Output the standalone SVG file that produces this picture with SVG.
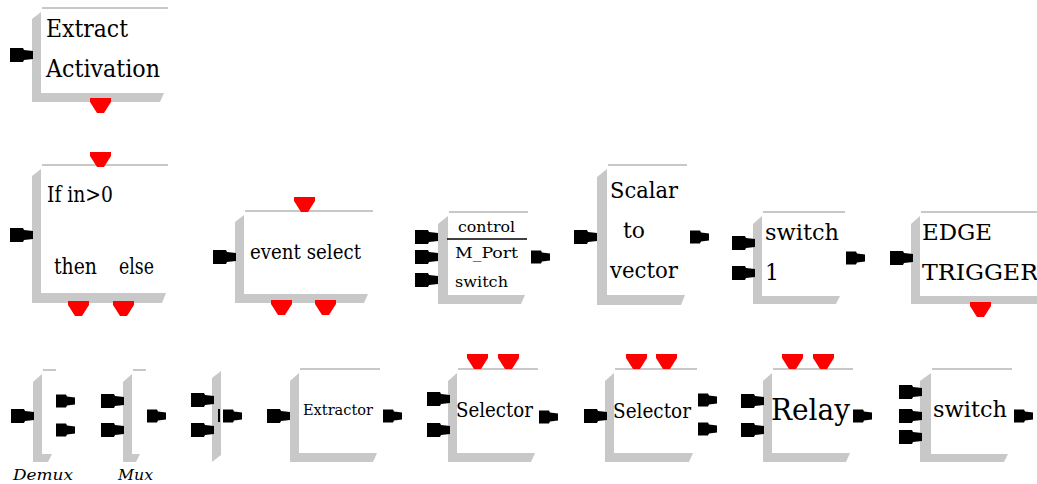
<svg xmlns="http://www.w3.org/2000/svg" xmlns:xlink="http://www.w3.org/1999/xlink" width="1037" height="484" viewBox="0 0 1037 484">
<style>
.sh{fill:#c8c8c8}
.tl{stroke:#c8c8c8;stroke-width:2;fill:none}
text{font-family:'DejaVu Serif','Liberation Serif',serif;fill:#000}
.pb{fill:#000}
.ev{fill:#f00}
</style>
<defs>
<path id="pi" d="M0,-7 H13 L14,-5 L23,-4 V4 L14,5 L13,7 H0 Z"/>
<path id="po" d="M0,-6.5 H10 L11,-4.5 L19,-3.5 V3.5 L11,4.5 L10,6.5 H0 Z"/>
<path id="ev" d="M0,0 H21 V4 L14,15 H7 L0,4 Z"/>
</defs>
<rect width="1037" height="484" fill="#fff"/>
<g id="connectors"/>

<g id="extract_activation">
<polygon class="sh" points="41,12 41,93 164,93 160,102 32,102 32,19"/>
<line class="tl" x1="42" y1="8" x2="168" y2="8"/>
<use href="#pi" class="pb" x="10" y="55"/>
<use href="#ev" class="ev" x="90" y="98"/>
<text x="46" y="37" font-size="24" textLength="82" lengthAdjust="spacingAndGlyphs">Extract</text>
<text x="46" y="77" font-size="24" textLength="114" lengthAdjust="spacingAndGlyphs">Activation</text>
</g>

<g id="if_then_else">
<polygon class="sh" points="41,169 41,293 166,293 162,303 32,303 32,176"/>
<line class="tl" x1="42" y1="165" x2="168" y2="165"/>
<use href="#ev" class="ev" x="90" y="152"/>
<use href="#pi" class="pb" x="10" y="235"/>
<use href="#ev" class="ev" x="68" y="301"/>
<use href="#ev" class="ev" x="113" y="301"/>
<text x="47" y="202" font-size="22" textLength="66" lengthAdjust="spacingAndGlyphs">If in&gt;0</text>
<text x="54" y="274" font-size="22" textLength="43" lengthAdjust="spacingAndGlyphs">then</text>
<text x="119" y="274" font-size="22" textLength="35" lengthAdjust="spacingAndGlyphs">else</text>
</g>

<g id="event_select">
<polygon class="sh" points="244,215 244,294 368,294 364,303 235,303 235,222"/>
<line class="tl" x1="245" y1="211" x2="373" y2="211"/>
<use href="#ev" class="ev" x="294" y="197"/>
<use href="#pi" class="pb" x="213" y="257"/>
<use href="#ev" class="ev" x="271" y="300"/>
<use href="#ev" class="ev" x="315" y="300"/>
<text x="250" y="259" font-size="20" textLength="111" lengthAdjust="spacingAndGlyphs">event select</text>
</g>

<g id="m_port">
<polygon class="sh" points="448,216 448,295 525,295 521,304 438,304 438,224"/>
<line class="tl" x1="449" y1="212" x2="528" y2="212"/>
<line x1="447" y1="239" x2="527" y2="239" stroke="#000" stroke-width="1.5"/>
<use href="#pi" class="pb" x="415" y="237"/>
<use href="#pi" class="pb" x="415" y="257"/>
<use href="#pi" class="pb" x="415" y="280"/>
<use href="#po" class="pb" x="531" y="257"/>
<text x="458" y="232" font-size="14" textLength="57" lengthAdjust="spacingAndGlyphs">control</text>
<text x="455" y="258" font-size="15" textLength="63" lengthAdjust="spacingAndGlyphs">M_Port</text>
<text x="455" y="287" font-size="15" textLength="53" lengthAdjust="spacingAndGlyphs">switch</text>
</g>

<g id="scalar_to_vector">
<polygon class="sh" points="607,169 607,295 685,295 681,305 597,305 597,177"/>
<line class="tl" x1="608" y1="165" x2="687" y2="165"/>
<use href="#pi" class="pb" x="574" y="237"/>
<use href="#po" class="pb" x="690" y="237"/>
<text x="610" y="198" font-size="22" textLength="68" lengthAdjust="spacingAndGlyphs">Scalar</text>
<text x="623" y="238" font-size="22" textLength="22" lengthAdjust="spacingAndGlyphs">to</text>
<text x="610" y="278" font-size="22" textLength="68" lengthAdjust="spacingAndGlyphs">vector</text>
</g>

<g id="switch_1">
<polygon class="sh" points="762,216 762,296 840,296 836,304 753,304 753,224"/>
<line class="tl" x1="763" y1="212" x2="845" y2="212"/>
<use href="#pi" class="pb" x="732" y="243"/>
<use href="#pi" class="pb" x="732" y="273"/>
<use href="#po" class="pb" x="846" y="258"/>
<text x="765" y="240" font-size="22" textLength="74" lengthAdjust="spacingAndGlyphs">switch</text>
<text x="765" y="280" font-size="22">1</text>
</g>

<g id="edge_trigger">
<polygon class="sh" points="920,216 920,296 1040,296 1040,304 911,304 911,224"/>
<line class="tl" x1="921" y1="212" x2="1037" y2="212"/>
<use href="#pi" class="pb" x="890" y="258"/>
<use href="#ev" class="ev" x="970" y="302"/>
<text x="922" y="240" font-size="23" textLength="70" lengthAdjust="spacingAndGlyphs">EDGE</text>
<text x="922" y="280" font-size="23" textLength="116" lengthAdjust="spacingAndGlyphs">TRIGGER</text>
</g>

<g id="demux">
<polygon class="sh" points="42,374 42,454 52,454 48,462 33,462 33,382"/>
<line class="tl" x1="43" y1="370" x2="56" y2="370"/>
<use href="#pi" class="pb" x="11" y="416"/>
<use href="#po" class="pb" x="56" y="401"/>
<use href="#po" class="pb" x="56" y="430"/>
<text font-style="italic" x="13" y="480" font-size="15" textLength="60" lengthAdjust="spacingAndGlyphs">Demux</text>
</g>

<g id="mux">
<polygon class="sh" points="132,374 132,454 140,454 136,462 123,462 123,382"/>
<line class="tl" x1="133" y1="370" x2="146" y2="370"/>
<use href="#pi" class="pb" x="101" y="401"/>
<use href="#pi" class="pb" x="101" y="430"/>
<use href="#po" class="pb" x="147" y="416"/>
<text font-style="italic" x="118" y="480" font-size="15" textLength="35" lengthAdjust="spacingAndGlyphs">Mux</text>
</g>

<g id="bar_block">
<polygon class="sh" points="212,378 221,371 221,455 212,462"/>
<use href="#pi" class="pb" x="191" y="400"/>
<use href="#pi" class="pb" x="191" y="430"/>
<rect class="pb" x="218" y="409" width="2" height="13"/>
<use href="#po" class="pb" x="223" y="416"/>
</g>

<g id="extractor">
<polygon class="sh" points="299,373 299,453 377,453 373,462 290,462 290,381"/>
<line class="tl" x1="300" y1="369" x2="380" y2="369"/>
<use href="#pi" class="pb" x="267" y="416"/>
<use href="#po" class="pb" x="383" y="416"/>
<text x="303" y="415" font-size="14" textLength="70" lengthAdjust="spacingAndGlyphs">Extractor</text>
</g>

<g id="selector_1">
<polygon class="sh" points="457,373 457,453 535,453 531,462 448,462 448,381"/>
<line class="tl" x1="458" y1="369" x2="538" y2="369"/>
<use href="#ev" class="ev" x="467" y="354"/>
<use href="#ev" class="ev" x="498" y="354"/>
<use href="#pi" class="pb" x="427" y="399"/>
<use href="#pi" class="pb" x="427" y="430"/>
<use href="#po" class="pb" x="539" y="417"/>
<text x="456" y="417" font-size="20" textLength="77" lengthAdjust="spacingAndGlyphs">Selector</text>
</g>

<g id="selector_2">
<polygon class="sh" points="614,373 614,453 693,453 689,462 605,462 605,381"/>
<line class="tl" x1="615" y1="369" x2="697" y2="369"/>
<use href="#ev" class="ev" x="626" y="354"/>
<use href="#ev" class="ev" x="656" y="354"/>
<use href="#pi" class="pb" x="584" y="416"/>
<use href="#po" class="pb" x="698" y="400"/>
<use href="#po" class="pb" x="698" y="429"/>
<text x="613" y="418" font-size="20" textLength="78" lengthAdjust="spacingAndGlyphs">Selector</text>
</g>

<g id="relay">
<polygon class="sh" points="772,373 772,453 850,453 846,462 763,462 763,381"/>
<line class="tl" x1="773" y1="369" x2="853" y2="369"/>
<use href="#ev" class="ev" x="782" y="354"/>
<use href="#ev" class="ev" x="813" y="354"/>
<use href="#pi" class="pb" x="741" y="401"/>
<use href="#pi" class="pb" x="741" y="430"/>
<use href="#po" class="pb" x="853" y="416"/>
<text x="771" y="420" font-size="30" textLength="79" lengthAdjust="spacingAndGlyphs">Relay</text>
</g>

<g id="switch_2">
<polygon class="sh" points="931,373 931,454 1008,454 1004,462 920,462 920,381"/>
<line class="tl" x1="932" y1="369" x2="1012" y2="369"/>
<use href="#pi" class="pb" x="899" y="392"/>
<use href="#pi" class="pb" x="899" y="416"/>
<use href="#pi" class="pb" x="899" y="437"/>
<use href="#po" class="pb" x="1014" y="416"/>
<text x="933" y="417" font-size="22" textLength="74" lengthAdjust="spacingAndGlyphs">switch</text>
</g>
</svg>
